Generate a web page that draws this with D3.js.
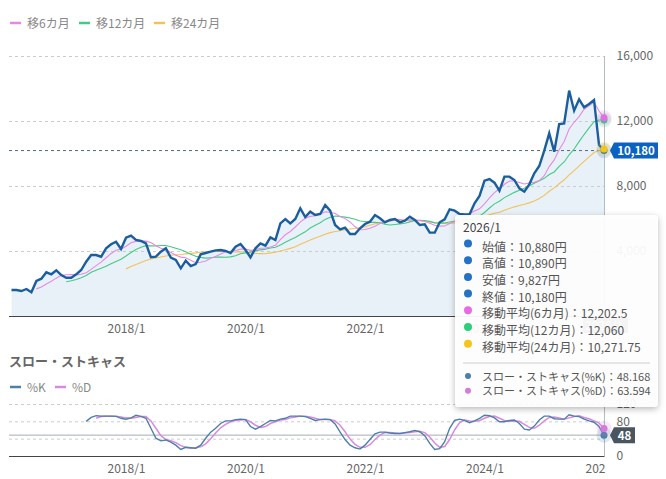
<!DOCTYPE html>
<html>
<head>
<meta charset="utf-8">
<script src="https://cdn.jsdelivr.net/npm/d3@7"></script>
<style>
body { margin: 0; background: #fff; }
text { font-family: "Noto Sans CJK JP", "Noto Sans", sans-serif; }
.domain { display: none; }
</style>
</head>
<body>
<script>
// monthly, 2016/2 - 2026/1
const months = d3.timeMonths(new Date(2016, 1, 1), new Date(2026, 1, 1)).map(d3.timeFormat("%Y/%-m"));
const xTicks = ["2018/1", "2020/1", "2022/1", "2024/1", "2026/1"];
const priceTicks = [4000, 8000, 12000, 16000];
const stochGrid = [40, 80, 120];
const stochTicks = [0, 80, 120];

const close = [1600,1600,1538,1662,1458,2154,2295,2689,2566,2812,2523,2357,2357,2566,2831,3342,3754,3754,3650,4166,
  4412,4572,4123,4818,4942,4677,4615,4474,3612,3650,3959,4164,3590,3446,2933,3405,3077,3200,3795,3877,
  3959,4041,4062,4000,3877,4267,4431,4062,3610,4164,4472,4328,4841,4677,5702,5969,5702,5969,6626,6092,
  6421,6215,6277,6831,6482,5600,5333,5436,5046,5046,5395,5662,5805,6215,6010,5764,5908,5969,5764,5867,
  6113,5908,5600,5641,5128,5128,5764,5948,6564,6482,6277,6256,6256,6933,7385,8328,8431,8205,7713,8574,
  8574,8369,7856,7651,8103,8779,9231,10174,11241,10113,11815,11856,13867,12636,13333,12841,13046,13292,10523,10180];

const ma6 = [null,null,null,null,null,1669,1785,1966,2137,2329,2507,2540,2551,2530,2574,2663,2868,3101,3316,3583,
  3846,4051,4113,4290,4506,4591,4625,4608,4523,4328,4165,4079,3908,3737,3624,3583,3436,3275,3309,3381,
  3552,3658,3822,3956,3969,4034,4113,4117,4041,4069,4168,4178,4246,4349,4697,4998,5203,5477,5774,6010,
  6130,6171,6267,6410,6386,6304,6123,5993,5788,5491,5309,5320,5398,5528,5689,5809,5894,5945,5938,5880,
  5898,5922,5870,5816,5710,5586,5528,5535,5696,5836,6027,6215,6297,6461,6598,6906,7265,7590,7833,8106,
  8304,8311,8215,8123,8188,8222,8332,8632,9197,9607,10226,10738,11511,11921,12270,12725,12930,13169,12612,12202.5];

const ma12 = [null,null,null,null,null,null,null,null,null,null,null,2105,2168,2248,2356,2496,2687,2821,2933,3057,
  3210,3357,3490,3695,3911,4087,4235,4330,4318,4309,4335,4335,4266,4173,4073,3956,3800,3677,3609,3559,
  3588,3621,3629,3615,3639,3708,3833,3887,3932,4012,4069,4106,4180,4233,4369,4533,4685,4827,5010,5179,
  5414,5585,5735,5944,6080,6157,6126,6082,6027,5950,5848,5812,5761,5761,5738,5650,5602,5632,5668,5704,
  5793,5865,5882,5880,5824,5733,5713,5728,5783,5826,5868,5901,5913,5998,6147,6371,6646,6902,7065,7284,
  7451,7608,7740,7856,8010,8164,8318,8472,8706,8865,9207,9480,9921,10277,10733,11166,11578,11954,12061,12060];

const ma24 = [null,null,null,null,null,null,null,null,null,null,null,null,null,null,null,null,null,null,null,null,
  null,null,null,2900,3039,3167,3296,3413,3503,3565,3634,3696,3738,3765,3782,3826,3856,3882,3922,3944,
  3953,3965,3982,3975,3953,3940,3953,3921,3866,3845,3839,3833,3884,3927,3999,4074,4162,4268,4421,4533,
  4673,4798,4902,5025,5130,5195,5248,5308,5356,5389,5429,5496,5587,5673,5737,5797,5841,5895,5897,5893,
  5910,5908,5865,5846,5792,5747,5726,5689,5692,5729,5768,5803,5853,5932,6014,6126,6235,6318,6389,6506,
  6617,6717,6804,6879,6961,7081,7232,7421,7676,7884,8136,8382,8686,8943,9237,9511,9794,10059,10190,10271.75];

const stochK = [null,null,null,null,null,null,null,null,null,null,null,null,null,null,null,80,89,93,92,92,
  92,91.5,87,85,88,94,91.5,87,64,41,35,37,32,25,15,20,19,18,25,41,
  55,64,75,81,81,84,85,84,68,62,68,75,82,81,85,87,92,92,92,91,
  87,82,84,85,84,74,55,38,25,19,16,25,38,51,55,55,53,52,52,54,
  56,59,56,47,29,15,17,33,64,82,85,82,77,81,87,94,93,88,79,79,
  82,83,75,62,60,69,83,92,92,86,85,85,95,92,91,85,81,78,68,48.168];

const stochD = [null,null,null,null,null,null,null,null,null,null,null,null,null,null,null,null,null,87,91,92,
  92,92,90,88,87,89,91,91,81,64,47,38,35,31,24,20,18,19,21,28,
  40,53,65,73,79,82,83,84,79,71,66,68,75,79,83,84,88,90,92,92,
  90,87,84,84,84,81,71,56,39,27,20,20,26,38,48,54,54,53,52,53,
  54,56,57,54,44,30,20,22,38,60,77,83,81,80,82,87,91,92,87,82,
  80,81,80,73,66,64,71,81,89,90,88,85,88,91,93,89,86,81,76,63.594];

const tooltipRows = [
  ["始値：10,880円", "#2472c4"],
  ["高値：10,890円", "#2472c4"],
  ["安値：9,827円", "#2472c4"],
  ["終値：10,180円", "#2472c4"],
  ["移動平均(6カ月)：12,202.5", "#e86be6"],
  ["移動平均(12カ月)：12,060", "#2ecf7c"],
  ["移動平均(24カ月)：10,271.75", "#f5c518"]
];
const tooltipStoch = [
  ["スロー・ストキャス(%K)：48.168", "#4d7fa8"],
  ["スロー・ストキャス(%D)：63.594", "#d47bdc"]
];

const svg = d3.select("body").append("svg").attr("width", 666).attr("height", 479).style("display", "block");

const defs = svg.append("defs");
defs.append("clipPath").attr("id", "tickClip").append("rect").attr("x", 0).attr("y", 0).attr("width", 606).attr("height", 479);
const shadow = defs.append("filter").attr("id", "shadow").attr("x", "-10%").attr("y", "-10%").attr("width", "120%").attr("height", "120%");
shadow.append("feDropShadow").attr("dx", 0).attr("dy", 2).attr("stdDeviation", 3).attr("flood-color", "#000").attr("flood-opacity", 0.3);

const left = 9, right = 604.5;
const x = d3.scalePoint().domain(months).range([11.5, 604]);
const y = d3.scaleLinear().domain([0, 16000]).range([316, 56]);
const yS = d3.scaleLinear().domain([0, 120]).range([456, 404]);

const lineOf = (scale) => d3.line().defined(d => d[1] != null).x(d => x(d[0])).y(d => scale(d[1]));
const pairs = (arr) => months.map((m, i) => [m, arr[i]]);
const last = months[months.length - 1];

// --- main chart
svg.append("path")
  .attr("d", d3.area().x(d => x(d[0])).y0(y(0)).y1(d => y(d[1]))(pairs(close)))
  .attr("fill", "#e9f1f8");

svg.append("g").selectAll("line").data(priceTicks).join("line")
  .attr("x1", left).attr("x2", right).attr("y1", d => y(d) + .5).attr("y2", d => y(d) + .5)
  .attr("stroke", "#ccc").attr("stroke-dasharray", "3,3");

svg.append("line").attr("x1", left).attr("x2", right).attr("y1", y(10180)).attr("y2", y(10180))
  .attr("stroke", "#4c6a85").attr("stroke-dasharray", "3,3");

[[ma24, "#f0c25a"], [ma12, "#45c986"], [ma6, "#e58ae4"]].forEach(([arr, c]) => {
  svg.append("path").attr("d", lineOf(y)(pairs(arr))).attr("fill", "none").attr("stroke", c).attr("stroke-width", 1.1);
});
svg.append("path").attr("d", lineOf(y)(pairs(close))).attr("fill", "none")
  .attr("stroke", "#1b5e9f").attr("stroke-width", 2.4).attr("stroke-linejoin", "miter");

svg.append("line").attr("x1", right).attr("x2", right).attr("y1", y(16000)).attr("y2", y(0)).attr("stroke", "#b4bcc4");
svg.append("line").attr("x1", left).attr("x2", right).attr("y1", y(0) + .5).attr("y2", y(0) + .5).attr("stroke", "#444");

const xAxisMain = svg.append("g").attr("transform", `translate(0,${y(0)})`)
  .call(d3.axisBottom(x).tickValues(xTicks.slice(0, 4)).tickSize(0).tickPadding(8));
const yAxisMain = svg.append("g").attr("transform", `translate(${right},0)`)
  .call(d3.axisRight(y).tickValues(priceTicks).tickFormat(d3.format(",")).tickSize(0).tickPadding(12));

function haloDot(scale, value, color) {
  svg.append("circle").attr("cx", x(last)).attr("cy", scale(value)).attr("r", 7.5).attr("fill", color).attr("opacity", .18);
  svg.append("circle").attr("cx", x(last)).attr("cy", scale(value)).attr("r", 3.5).attr("fill", color);
}
haloDot(y, close[119], "#2472c4");
haloDot(y, ma12[119], "#2ecf7c");
haloDot(y, ma6[119], "#e86be6");
haloDot(y, ma24[119], "#f5c518");

function valueTag(yPos, label, color, width) {
  svg.append("path")
    .attr("d", d3.line()([[610, yPos], [614, yPos - 8], [610 + width, yPos - 8], [610 + width, yPos + 8], [614, yPos + 8]]) + "Z")
    .attr("fill", color);
  svg.append("text").attr("x", 614 + (width - 4) / 2).attr("y", yPos + 4.5).attr("text-anchor", "middle")
    .attr("fill", "#fff").attr("font-size", 11.5).attr("font-weight", 700).text(label);
}
valueTag(y(10180), "10,180", "#0b62c2", 48);

// legend
function legend(items, yPos) {
  items.forEach(([label, c, xPos]) => {
    svg.append("line").attr("x1", xPos).attr("x2", xPos + 11).attr("y1", yPos).attr("y2", yPos).attr("stroke", c).attr("stroke-width", 2.5);
    svg.append("text").attr("x", xPos + 17).attr("y", yPos + 4.5).attr("font-size", 12).attr("fill", "#888").text(label);
  });
}
legend([["移6カ月", "#e58ae4", 10], ["移12カ月", "#45c986", 79], ["移24カ月", "#f0c25a", 154]], 23);

// --- stochastics
svg.append("text").attr("x", 9).attr("y", 366).attr("font-size", 13).attr("font-weight", 700).attr("fill", "#666").text("スロー・ストキャス");
legend([["%K", "#4d7fa8", 10], ["%D", "#d88ae0", 55]], 387);

svg.append("g").selectAll("line").data(stochGrid).join("line")
  .attr("x1", left).attr("x2", right).attr("y1", d => yS(d) + .5).attr("y2", d => yS(d) + .5)
  .attr("stroke", "#ccc").attr("stroke-dasharray", "3,3");
svg.append("line").attr("x1", left).attr("x2", right).attr("y1", yS(48.168)).attr("y2", yS(48.168)).attr("stroke", "#a3adb5");

svg.append("path").attr("d", lineOf(yS)(pairs(stochD))).attr("fill", "none").attr("stroke", "#d88ae0").attr("stroke-width", 1.5);
svg.append("path").attr("d", lineOf(yS)(pairs(stochK))).attr("fill", "none").attr("stroke", "#4d7fa8").attr("stroke-width", 1.4);

svg.append("line").attr("x1", right).attr("x2", right).attr("y1", yS(120)).attr("y2", yS(0)).attr("stroke", "#b4bcc4");
svg.append("line").attr("x1", left).attr("x2", right).attr("y1", yS(0) + .5).attr("y2", yS(0) + .5).attr("stroke", "#444");

const xAxisStoch = svg.append("g").attr("transform", `translate(0,${yS(0)})`).attr("clip-path", "url(#tickClip)")
  .call(d3.axisBottom(x).tickValues(xTicks).tickSize(0).tickPadding(8));
const yAxisStoch = svg.append("g").attr("transform", `translate(${right},0)`)
  .call(d3.axisRight(yS).tickValues(stochTicks).tickSize(0).tickPadding(12));

[xAxisMain, yAxisMain, xAxisStoch, yAxisStoch].forEach(g => {
  g.selectAll("text").attr("font-size", 12).attr("font-family", null).attr("fill", "#666");
});

haloDot(yS, stochK[119], "#4d7fa8");
haloDot(yS, stochD[119], "#d47bdc");
valueTag(yS(48.168), "48", "#4a5560", 25);

// crosshair date tag, sits behind the tooltip
svg.append("rect").attr("x", 583).attr("y", 318).attr("width", 45).attr("height", 15).attr("fill", "#4a5560");
svg.append("text").attr("x", x(last)).attr("y", 330).attr("text-anchor", "middle").attr("font-size", 12).attr("fill", "#fff").text(last);

// --- tooltip
const tip = svg.append("g").attr("transform", "translate(455,215)");
tip.append("rect").attr("width", 203).attr("height", 192).attr("rx", 4)
  .attr("fill", "#fff").attr("fill-opacity", .93).attr("filter", "url(#shadow)");
tip.append("text").attr("x", 8).attr("y", 17).attr("font-size", 12).attr("fill", "#444").text(last);

tip.selectAll(".row").data(tooltipRows).join("g").attr("class", "row")
  .attr("transform", (d, i) => `translate(0,${31.5 + i * 16.7})`)
  .each(function (d) {
    const g = d3.select(this);
    g.append("circle").attr("cx", 13).attr("cy", -3).attr("r", 4).attr("fill", d[1]);
    g.append("text").attr("x", 27).attr("y", 5).attr("font-size", 12).attr("fill", "#555").text(d[0]);
  });

tip.append("line").attr("x1", 8).attr("x2", 195).attr("y1", 148).attr("y2", 148).attr("stroke", "#ddd").attr("stroke-width", 1.5);

tip.selectAll(".srow").data(tooltipStoch).join("g").attr("class", "srow")
  .attr("transform", (d, i) => `translate(0,${161.5 + i * 14.7})`)
  .each(function (d) {
    const g = d3.select(this);
    g.append("circle").attr("cx", 13).attr("cy", -0.5).attr("r", 3).attr("fill", d[1]);
    g.append("text").attr("x", 27).attr("y", 4).attr("font-size", 11).attr("fill", "#555").text(d[0]);
  });
</script>
</body>
</html>
